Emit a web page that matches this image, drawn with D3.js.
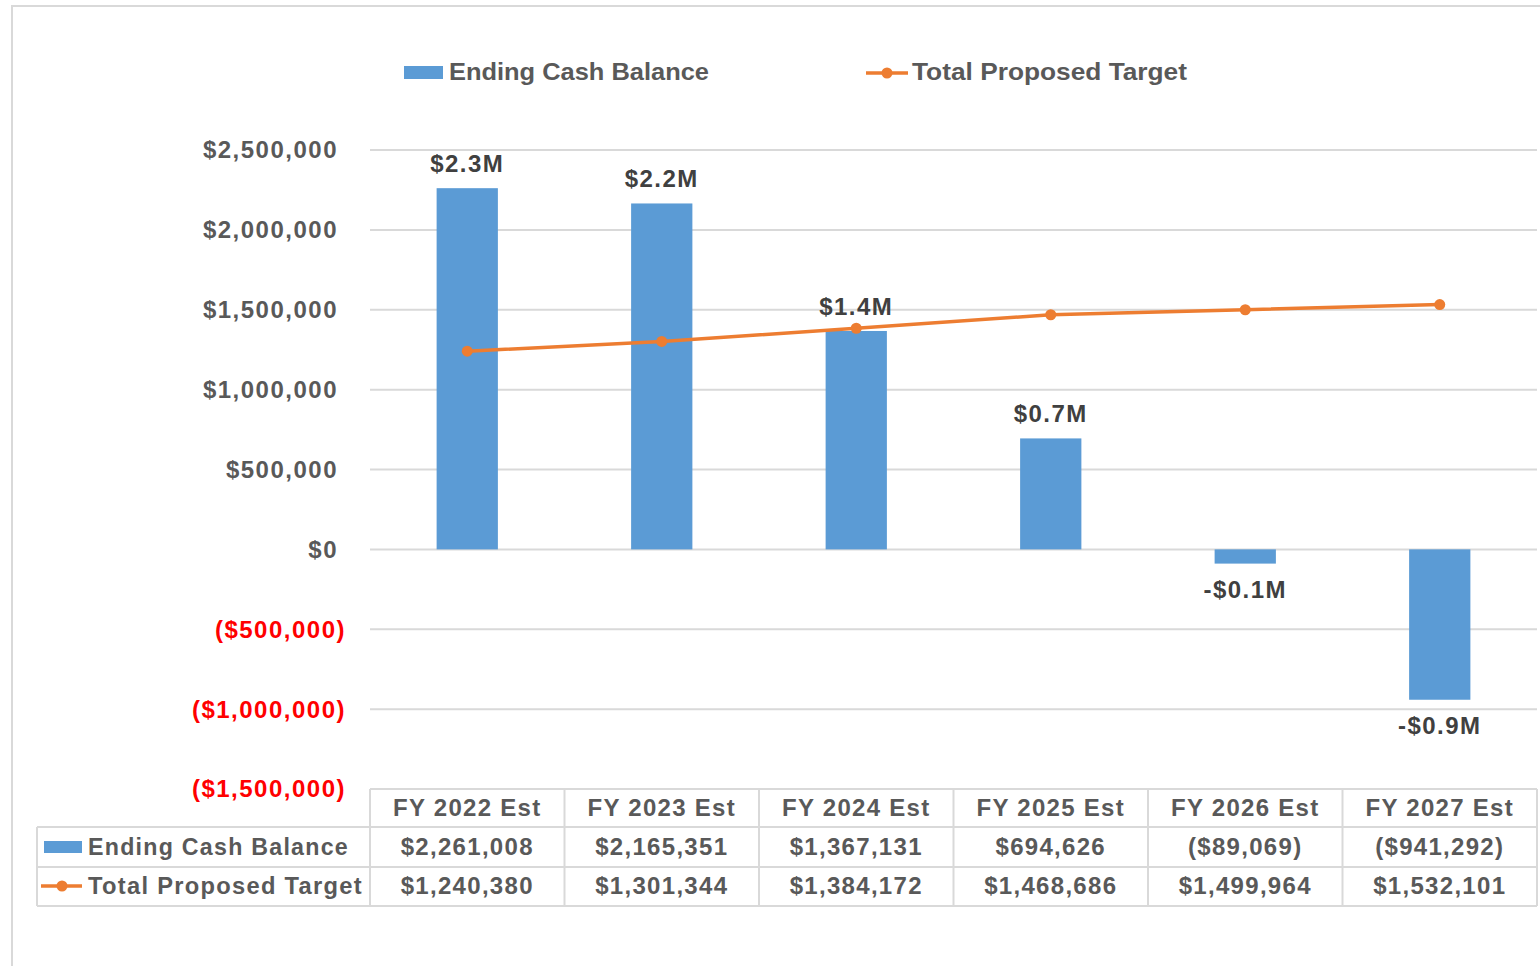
<!DOCTYPE html>
<html>
<head>
<meta charset="utf-8">
<script src="https://cdn.jsdelivr.net/npm/d3@7"></script>
<style>
  body { margin: 0; background: #fff; }
  svg text { font-family: "Liberation Sans", Arial, sans-serif; font-weight: bold; }
</style>
</head>
<body>
<div id="viz"></div>
<script>
const width = 1540;
const height = 966;
const margin = { top: 150, right: 3, bottom: 177, left: 370 };

const categories = ['FY 2022 Est', 'FY 2023 Est', 'FY 2024 Est', 'FY 2025 Est', 'FY 2026 Est', 'FY 2027 Est'];
const cashBalance = [2261008, 2165351, 1367131, 694626, -89069, -941292];
const proposedTarget = [1240380, 1301344, 1384172, 1468686, 1499964, 1532101];
const yTicks = [2500000, 2000000, 1500000, 1000000, 500000, 0, -500000, -1000000, -1500000];
const seriesNames = ['Ending Cash Balance', 'Total Proposed Target'];

const blue = '#5b9bd5';
const orange = '#ed7d31';
const textGrey = '#595959';
const gridGrey = '#d9d9d9';

const svg = d3.select('#viz')
    .append('svg')
        .attr('width', width)
        .attr('height', height);

// outer chart border
svg.append('rect')
    .attr('x', 12).attr('y', 6)
    .attr('width', width + 20).attr('height', height + 20)
    .attr('fill', 'none')
    .attr('stroke', gridGrey)
    .attr('stroke-width', 2);

const xScale = d3.scaleBand()
    .domain(categories)
    .range([margin.left, width - margin.right]);

const yScale = d3.scaleLinear()
    .domain([-1500000, 2500000])
    .range([height - margin.bottom, margin.top]);

const money = d3.format('$,');
const fmtAxis = v => v < 0 ? '(' + money(-v) + ')' : money(v);
const fmtLabel = v => (v < 0 ? '-$' : '$') + d3.format('.1f')(Math.abs(v) / 1e6) + 'M';

// gridlines
svg.append('g')
    .selectAll('line')
    .data(yTicks.filter(t => t > -1500000))
    .join('line')
        .attr('x1', margin.left)
        .attr('x2', width - margin.right)
        .attr('y1', d => yScale(d))
        .attr('y2', d => yScale(d))
        .attr('stroke', gridGrey)
        .attr('stroke-width', 2);

// y axis labels
svg.append('g')
    .selectAll('text')
    .data(yTicks)
    .join('text')
        .attr('x', d => d < 0 ? 346 : 338)
        .attr('y', d => yScale(d))
        .attr('dy', '0.35em')
        .attr('text-anchor', 'end')
        .attr('fill', d => d < 0 ? '#ff0000' : textGrey)
        .style('font-size', '24px')
        .style('letter-spacing', '1.5px')
        .text(d => fmtAxis(d));

// bars
const barW = xScale.bandwidth() * 0.315;
const cx = d => xScale(d) + xScale.bandwidth() / 2;

svg.append('g')
    .selectAll('rect')
    .data(categories)
    .join('rect')
        .attr('x', d => cx(d) - barW / 2)
        .attr('y', (d, i) => yScale(Math.max(0, cashBalance[i])))
        .attr('width', barW)
        .attr('height', (d, i) => Math.abs(yScale(cashBalance[i]) - yScale(0)))
        .attr('fill', blue);

// bar labels
svg.append('g')
    .selectAll('text')
    .data(categories)
    .join('text')
        .attr('x', d => cx(d))
        .attr('y', (d, i) => cashBalance[i] >= 0 ? yScale(cashBalance[i]) - 16 : yScale(cashBalance[i]) + 34)
        .attr('text-anchor', 'middle')
        .attr('fill', '#404040')
        .style('font-size', '24px')
        .style('letter-spacing', '1.5px')
        .text((d, i) => fmtLabel(cashBalance[i]));

// target line
const line = d3.line()
    .x((d, i) => cx(categories[i]))
    .y(d => yScale(d));

svg.append('path')
    .datum(proposedTarget)
    .attr('d', line)
    .attr('fill', 'none')
    .attr('stroke', orange)
    .attr('stroke-width', 3.5);

svg.append('g')
    .selectAll('circle')
    .data(proposedTarget)
    .join('circle')
        .attr('cx', (d, i) => cx(categories[i]))
        .attr('cy', d => yScale(d))
        .attr('r', 5.5)
        .attr('fill', orange);

// legend on top
const legend = svg.append('g');
legend.append('rect')
    .attr('x', 404).attr('y', 66).attr('width', 39).attr('height', 13)
    .attr('fill', blue);
legend.append('text')
    .attr('x', 449).attr('y', 80)
    .attr('fill', textGrey)
    .style('font-size', '24px')
    .attr('textLength', 260)
    .attr('lengthAdjust', 'spacingAndGlyphs')
    .text(seriesNames[0]);
legend.append('line')
    .attr('x1', 866).attr('x2', 908).attr('y1', 73).attr('y2', 73)
    .attr('stroke', orange).attr('stroke-width', 3.5);
legend.append('circle')
    .attr('cx', 887).attr('cy', 73).attr('r', 5.5).attr('fill', orange);
legend.append('text')
    .attr('x', 912).attr('y', 80)
    .attr('fill', textGrey)
    .style('font-size', '24px')
    .attr('textLength', 275)
    .attr('lengthAdjust', 'spacingAndGlyphs')
    .text(seriesNames[1]);

// data table
const tTop = height - margin.bottom;
const rowH = [38, 40, 39];
const rowY = [tTop, tTop + rowH[0], tTop + rowH[0] + rowH[1], tTop + rowH[0] + rowH[1] + rowH[2]];
const tableLeft = 37;
const table = svg.append('g');

const hLines = [
    { y: rowY[0], x1: margin.left },
    { y: rowY[1], x1: tableLeft },
    { y: rowY[2], x1: tableLeft },
    { y: rowY[3], x1: tableLeft }
];
table.selectAll('line.h')
    .data(hLines)
    .join('line')
        .attr('class', 'h')
        .attr('x1', d => d.x1)
        .attr('x2', width - margin.right)
        .attr('y1', d => d.y)
        .attr('y2', d => d.y)
        .attr('stroke', gridGrey)
        .attr('stroke-width', 2);

const colEdges = categories.map(c => xScale(c)).concat([width - margin.right]);
table.selectAll('line.v')
    .data(colEdges)
    .join('line')
        .attr('class', 'v')
        .attr('x1', d => d).attr('x2', d => d)
        .attr('y1', rowY[0]).attr('y2', rowY[3])
        .attr('stroke', gridGrey)
        .attr('stroke-width', 2);
table.append('line')
    .attr('x1', tableLeft).attr('x2', tableLeft)
    .attr('y1', rowY[1]).attr('y2', rowY[3])
    .attr('stroke', gridGrey).attr('stroke-width', 2);

const cellText = (sel, y) => sel
    .attr('y', y)
    .attr('fill', textGrey)
    .style('font-size', '24px')
    .style('letter-spacing', '1.3px');

table.append('g').selectAll('text')
    .data(categories)
    .join('text')
        .attr('x', d => cx(d))
        .attr('text-anchor', 'middle')
        .call(cellText, rowY[0] + 27)
        .text(d => d);

table.append('g').selectAll('text')
    .data(cashBalance)
    .join('text')
        .attr('x', (d, i) => cx(categories[i]))
        .attr('text-anchor', 'middle')
        .call(cellText, rowY[1] + 28)
        .text(d => fmtAxis(d));

table.append('g').selectAll('text')
    .data(proposedTarget)
    .join('text')
        .attr('x', (d, i) => cx(categories[i]))
        .attr('text-anchor', 'middle')
        .call(cellText, rowY[2] + 27)
        .text(d => fmtAxis(d));

// row headers with legend keys
table.append('rect')
    .attr('x', 44).attr('y', rowY[1] + 14).attr('width', 38).attr('height', 12)
    .attr('fill', blue);
table.append('text')
    .attr('x', 88)
    .call(cellText, rowY[1] + 28)
    .attr('textLength', 261)
    .attr('lengthAdjust', 'spacingAndGlyphs')
    .text(seriesNames[0]);
table.append('line')
    .attr('x1', 41).attr('x2', 82).attr('y1', rowY[2] + 19).attr('y2', rowY[2] + 19)
    .attr('stroke', orange).attr('stroke-width', 3.5);
table.append('circle')
    .attr('cx', 62).attr('cy', rowY[2] + 19).attr('r', 5.5).attr('fill', orange);
table.append('text')
    .attr('x', 88)
    .call(cellText, rowY[2] + 27)
    .attr('textLength', 275)
    .attr('lengthAdjust', 'spacingAndGlyphs')
    .text(seriesNames[1]);
</script>
</body>
</html>
